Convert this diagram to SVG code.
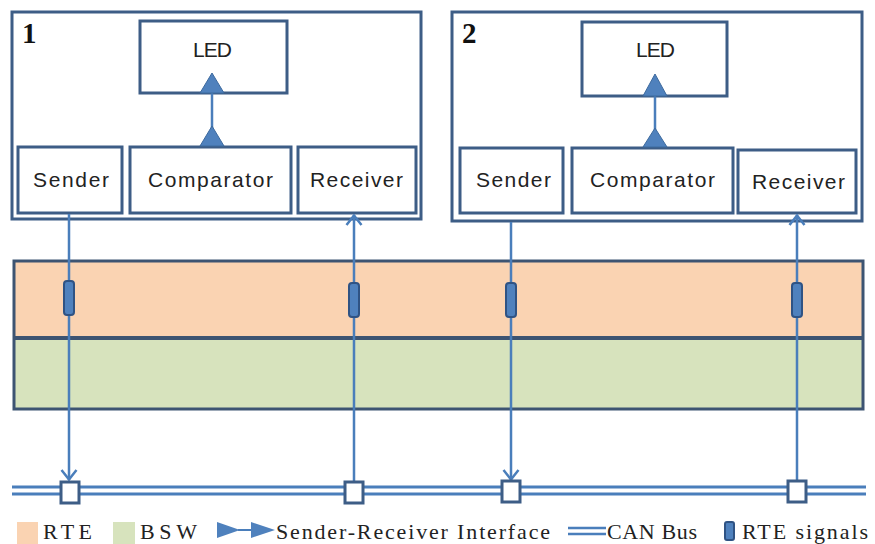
<svg xmlns="http://www.w3.org/2000/svg" width="875" height="544" viewBox="0 0 875 544">
<defs>
<style>
.frame{fill:#fff;stroke:#3d5d86;stroke-width:3}
.box{fill:#fff;stroke:#3d5d86;stroke-width:3}
.lbl{font-family:"Liberation Sans",Arial,sans-serif;font-size:21px;fill:#222}
.num{font-family:"Liberation Serif","Times New Roman",serif;font-size:29px;font-weight:bold;fill:#111}
.leg{font-family:"Liberation Serif","Times New Roman",serif;font-size:22px;fill:#222}
.conn{stroke:#4a7ebb;stroke-width:2.5;fill:none}
.tri{fill:#4f81bd;stroke:#3d6a9e;stroke-width:1}
.pill{fill:#4f81bd;stroke:#2f5384;stroke-width:2}
.port{fill:#fff;stroke:#3d5d86;stroke-width:3}
.bus{stroke:#4a7ebb;stroke-width:3;fill:none}
</style>
<marker id="chev" viewBox="0 0 12 18" refX="11" refY="9" markerWidth="12" markerHeight="18" markerUnits="userSpaceOnUse" orient="auto">
<path d="M1,1.5 L10.5,9 L1,16.5" fill="none" stroke="#4a7ebb" stroke-width="2.5"/>
</marker>
</defs>

<g id="layers">
<rect x="14" y="261" width="849" height="77" fill="#fad3b2"/>
<rect x="14" y="338" width="849" height="71" fill="#d7e3bd"/>
<rect x="14" y="261" width="849" height="148" fill="none" stroke="#3d5472" stroke-width="3"/>
<line x1="14" y1="338" x2="863" y2="338" stroke="#3d5472" stroke-width="4"/>
</g>

<g id="ecu1">
<rect class="frame" x="12" y="12" width="409" height="207"/>
<text class="num" x="22" y="43">1</text>
<g id="led1"><rect class="box" x="140" y="21" width="147" height="72"/><text class="lbl" x="193" y="57" textLength="39" lengthAdjust="spacing">LED</text></g>
<g id="sender1"><rect class="box" x="18" y="147" width="104" height="66"/><text class="lbl" x="33" y="187" textLength="76" lengthAdjust="spacing">Sender</text></g>
<g id="comparator1"><rect class="box" x="130" y="147" width="161" height="66"/><text class="lbl" x="148" y="187" textLength="125" lengthAdjust="spacing">Comparator</text></g>
<g id="receiver1"><rect class="box" x="298" y="147" width="118" height="66"/><text class="lbl" x="310" y="187" textLength="93" lengthAdjust="spacing">Receiver</text></g>
</g>

<g id="ecu2">
<rect class="frame" x="452" y="12" width="410" height="209"/>
<text class="num" x="462" y="43">2</text>
<g id="led2"><rect class="box" x="582" y="22" width="145" height="74"/><text class="lbl" x="636" y="57" textLength="39" lengthAdjust="spacing">LED</text></g>
<g id="sender2"><rect class="box" x="460" y="148" width="103" height="65"/><text class="lbl" x="476" y="187" textLength="75" lengthAdjust="spacing">Sender</text></g>
<g id="comparator2"><rect class="box" x="572" y="148" width="161" height="65"/><text class="lbl" x="590" y="187" textLength="125" lengthAdjust="spacing">Comparator</text></g>
<g id="receiver2"><rect class="box" x="738" y="150" width="118" height="63"/><text class="lbl" x="752" y="189" textLength="93" lengthAdjust="spacing">Receiver</text></g>
</g>

<g id="bus">
<line class="bus" x1="12" y1="487" x2="866" y2="487"/>
<line class="bus" x1="12" y1="494" x2="866" y2="494"/>
</g>

<g id="connectors">
<line class="conn" x1="212" y1="146" x2="212" y2="93"/>
<polygon class="tri" points="200,93 224,93 212,73"/>
<polygon class="tri" points="200,146 224,146 212,126"/>
<line class="conn" x1="655" y1="147" x2="655" y2="96"/>
<polygon class="tri" points="643,96 667,96 655,74"/>
<polygon class="tri" points="643,147 667,147 655,128"/>

<line class="conn" x1="69" y1="214" x2="69" y2="480" marker-end="url(#chev)"/>
<line class="conn" x1="511" y1="222" x2="511" y2="480" marker-end="url(#chev)"/>
<line class="conn" x1="354" y1="482" x2="354" y2="215" marker-end="url(#chev)"/>
<line class="conn" x1="797" y1="482" x2="797" y2="215" marker-end="url(#chev)"/>

<rect class="pill" x="64" y="281" width="10" height="34" rx="3"/>
<rect class="pill" x="349" y="283" width="10" height="34" rx="3"/>
<rect class="pill" x="506" y="283" width="10" height="34" rx="3"/>
<rect class="pill" x="792" y="283" width="10" height="34" rx="3"/>

<rect class="port" x="61" y="482" width="18" height="21"/>
<rect class="port" x="345" y="482" width="18" height="21"/>
<rect class="port" x="502" y="481" width="18" height="21"/>
<rect class="port" x="788" y="481" width="18" height="21"/>
</g>

<g id="legend">
<rect x="17" y="522" width="21" height="22" fill="#fad3b2"/>
<text class="leg" x="43" y="539" textLength="49" lengthAdjust="spacing">RTE</text>
<rect x="113" y="522" width="22" height="22" fill="#d7e3bd"/>
<text class="leg" x="140" y="539" textLength="57" lengthAdjust="spacing">BSW</text>
<polygon points="217,522 240,530 217,538" fill="#4f81bd"/>
<line x1="238" y1="530" x2="253" y2="530" stroke="#4a7ebb" stroke-width="2"/>
<polygon points="251,522 275,530 251,538" fill="#4f81bd"/>
<text class="leg" x="276" y="539" textLength="274" lengthAdjust="spacing">Sender-Receiver Interface</text>
<line x1="568" y1="528" x2="606" y2="528" stroke="#4a7ebb" stroke-width="2.5"/>
<line x1="568" y1="534" x2="606" y2="534" stroke="#4a7ebb" stroke-width="2.5"/>
<text class="leg" x="607" y="539" textLength="90" lengthAdjust="spacing">CAN Bus</text>
<rect class="pill" x="725" y="522" width="9" height="18" rx="2"/>
<text class="leg" x="742" y="539" textLength="126" lengthAdjust="spacing">RTE signals</text>
</g>
</svg>
